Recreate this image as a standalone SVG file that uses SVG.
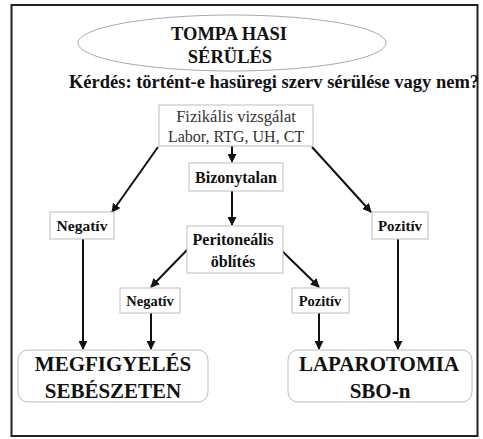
<svg xmlns="http://www.w3.org/2000/svg" width="483" height="439" viewBox="0 0 483 439">
<style>
.t{font-family:'Liberation Serif',serif;fill:#111;text-anchor:middle}
.b{font-weight:bold}
.box{fill:#fff;stroke:#bdbdbd;stroke-width:1}
.ln{stroke:#111;stroke-width:2;fill:none}
</style>
<defs>
<marker id="ah" viewBox="0 0 10 10" refX="9" refY="5" markerWidth="4.5" markerHeight="4.5" orient="auto" markerUnits="strokeWidth">
<path d="M0,0 L10,5 L0,10 z" fill="#111"/>
</marker>
</defs>
<rect width="483" height="439" fill="#fff"/>
<rect x="11.5" y="5" width="466" height="431" fill="none" stroke="#222" stroke-width="2"/>
<g id="title" font-family="Liberation Serif">
<ellipse cx="232" cy="43" rx="154" ry="28" fill="#fff" stroke="#aaa" stroke-width="1"/>
<text class="t b" x="229" y="40" font-size="18.5">TOMPA HASI</text>
<text class="t b" x="230" y="63" font-size="18.5">SÉRÜLÉS</text>
</g>
<g id="question" font-family="Liberation Serif">
<text class="t b" x="274" y="88" font-size="18" textLength="410" lengthAdjust="spacingAndGlyphs">Kérdés: történt-e hasüregi szerv sérülése vagy nem?</text>
</g>
<g id="connectors">
<line class="ln" x1="232" y1="146" x2="232" y2="162" marker-end="url(#ah)"/>
<line class="ln" x1="232" y1="191" x2="232" y2="225" marker-end="url(#ah)"/>
<line class="ln" x1="158" y1="147" x2="112" y2="212" marker-end="url(#ah)"/>
<line class="ln" x1="312" y1="147" x2="371" y2="212" marker-end="url(#ah)"/>
<line class="ln" x1="83" y1="239" x2="83" y2="349" marker-end="url(#ah)"/>
<line class="ln" x1="398" y1="239" x2="398" y2="349" marker-end="url(#ah)"/>
<line class="ln" x1="187" y1="250" x2="151" y2="287" marker-end="url(#ah)"/>
<line class="ln" x1="280" y1="249" x2="319" y2="287" marker-end="url(#ah)"/>
<line class="ln" x1="151" y1="313" x2="151" y2="349" marker-end="url(#ah)"/>
<line class="ln" x1="319" y1="313" x2="319" y2="349" marker-end="url(#ah)"/>
</g>
<g id="fizikalis" font-family="Liberation Serif">
<rect class="box" x="159" y="105" width="154" height="41"/>
<text class="t" x="236" y="122" font-size="16.5" style="fill:#333">Fizikális vizsgálat</text>
<text class="t" x="236" y="142" font-size="16" style="fill:#333">Labor, RTG, UH, CT</text>
</g>
<g id="bizonytalan" font-family="Liberation Serif">
<rect class="box" x="189" y="163" width="94" height="28"/>
<text class="t b" x="236" y="183" font-size="16">Bizonytalan</text>
</g>
<g id="peritonealis" font-family="Liberation Serif">
<rect class="box" x="187" y="226" width="96" height="47"/>
<text class="t b" x="233" y="245" font-size="16">Peritoneális</text>
<text class="t b" x="233" y="267" font-size="16">öblítés</text>
</g>
<g id="negativ1" font-family="Liberation Serif">
<rect class="box" x="50" y="212" width="64" height="27"/>
<text class="t b" x="82" y="231" font-size="15.5">Negatív</text>
</g>
<g id="pozitiv1" font-family="Liberation Serif">
<rect class="box" x="372" y="212" width="56" height="27"/>
<text class="t b" x="400" y="231" font-size="15">Pozitív</text>
</g>
<g id="negativ2" font-family="Liberation Serif">
<rect class="box" x="120" y="288" width="60" height="25"/>
<text class="t b" x="150" y="306" font-size="14.5">Negatív</text>
</g>
<g id="pozitiv2" font-family="Liberation Serif">
<rect class="box" x="292" y="288" width="57" height="25"/>
<text class="t b" x="320" y="306" font-size="14.5">Pozitív</text>
</g>
<g id="megfigyeles" font-family="Liberation Serif">
<rect class="box" x="18" y="350" width="190" height="52" rx="10"/>
<text class="t b" x="113" y="371" font-size="21">MEGFIGYELÉS</text>
<text class="t b" x="113" y="398" font-size="21">SEBÉSZETEN</text>
</g>
<g id="laparotomia" font-family="Liberation Serif">
<rect class="box" x="288" y="350" width="184" height="52" rx="10"/>
<text class="t b" x="379" y="371" font-size="21">LAPAROTOMIA</text>
<text class="t b" x="380" y="398" font-size="21">SBO-n</text>
</g>
</svg>
